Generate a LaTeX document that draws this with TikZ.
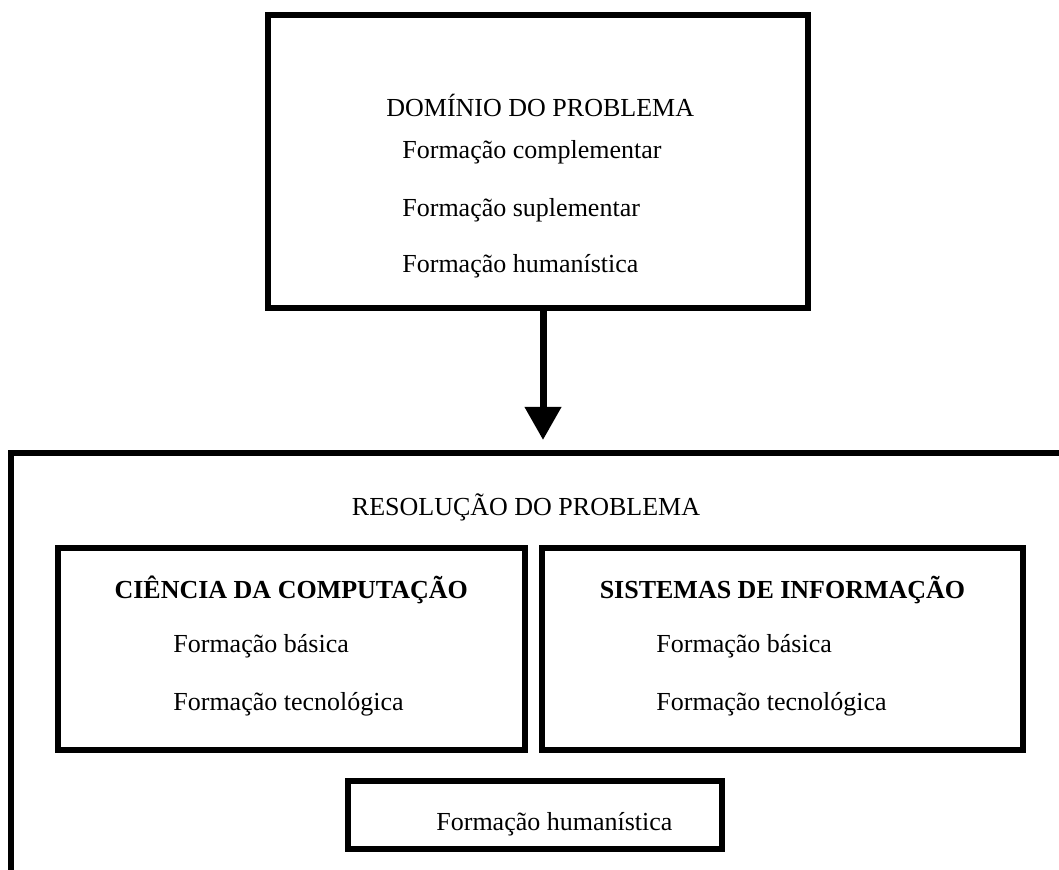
\documentclass[tikz,border=0pt]{standalone}
\usepackage{fontspec}
\setmainfont{Liberation Serif}
\usetikzlibrary{arrows.meta}
\tikzset{
  frame/.style={draw=black, line width=3pt, inner sep=0pt, fill=none},
  lbl/.style={inner sep=0pt, anchor=base west, font=\fontsize{13pt}{15pt}\selectfont},
  title/.style={inner sep=0pt, anchor=base, font=\fontsize{13pt}{15pt}\selectfont},
  btitle/.style={inner sep=0pt, anchor=base, font=\fontsize{13pt}{15pt}\selectfont\bfseries},
  bigarrow/.style={draw=black, line width=3.5pt, -{Triangle[length=16.5pt,width=17.5pt]}}
}
\begin{document}
\begin{tikzpicture}[x=0.5pt,y=-0.5pt]
\useasboundingbox (0,0) rectangle (1059,870);
\clip (0,0) rectangle (1059,870);
% top box
\node[frame, minimum width=270pt, minimum height=146.5pt] (dom) at (538,161.5) {};
\node[title, anchor=base west] (domt) at (386,117) {DOMÍNIO DO PROBLEMA};
\node[lbl] (d1) at (402,159) {Formação complementar};
\node[lbl] (d2) at (402,217) {Formação suplementar};
\node[lbl] (d3) at (402,273) {Formação humanística};
% arrow
\coordinate (atip) at (543,440);
\draw[bigarrow] (dom.south -| atip) -- (atip);
% big open box
\coordinate (bigtr) at (1075,453);
\coordinate (bigtl) at (11,453);
\coordinate (bigbl) at (11,885);
\draw[line width=3pt, line join=miter] (bigtr) -- (bigtl) -- (bigbl);
\node[title] (res) at (526,516) {RESOLUÇÃO DO PROBLEMA};
% ciencia box
\node[frame, minimum width=233.25pt, minimum height=101pt] (cc) at (291.25,649) {};
\node[btitle] (cct) at (291.25,598) {CIÊNCIA DA COMPUTAÇÃO};
\node[lbl] (cc1) at (173,653) {Formação básica};
\node[lbl] (cc2) at (173,710) {Formação tecnológica};
% sistemas box
\node[frame, minimum width=240.5pt, minimum height=101pt] (si) at (782.5,649) {};
\node[btitle] (sit) at (782.5,598) {SISTEMAS DE INFORMAÇÃO};
\node[lbl] (si1) at (656,653) {Formação básica};
\node[lbl] (si2) at (656,710) {Formação tecnológica};
% humanistica box
\node[frame, minimum width=187pt, minimum height=34pt] (hu) at (535,815) {};
\node[lbl] (hut) at (436,830) {Formação humanística};
\end{tikzpicture}
\end{document}
